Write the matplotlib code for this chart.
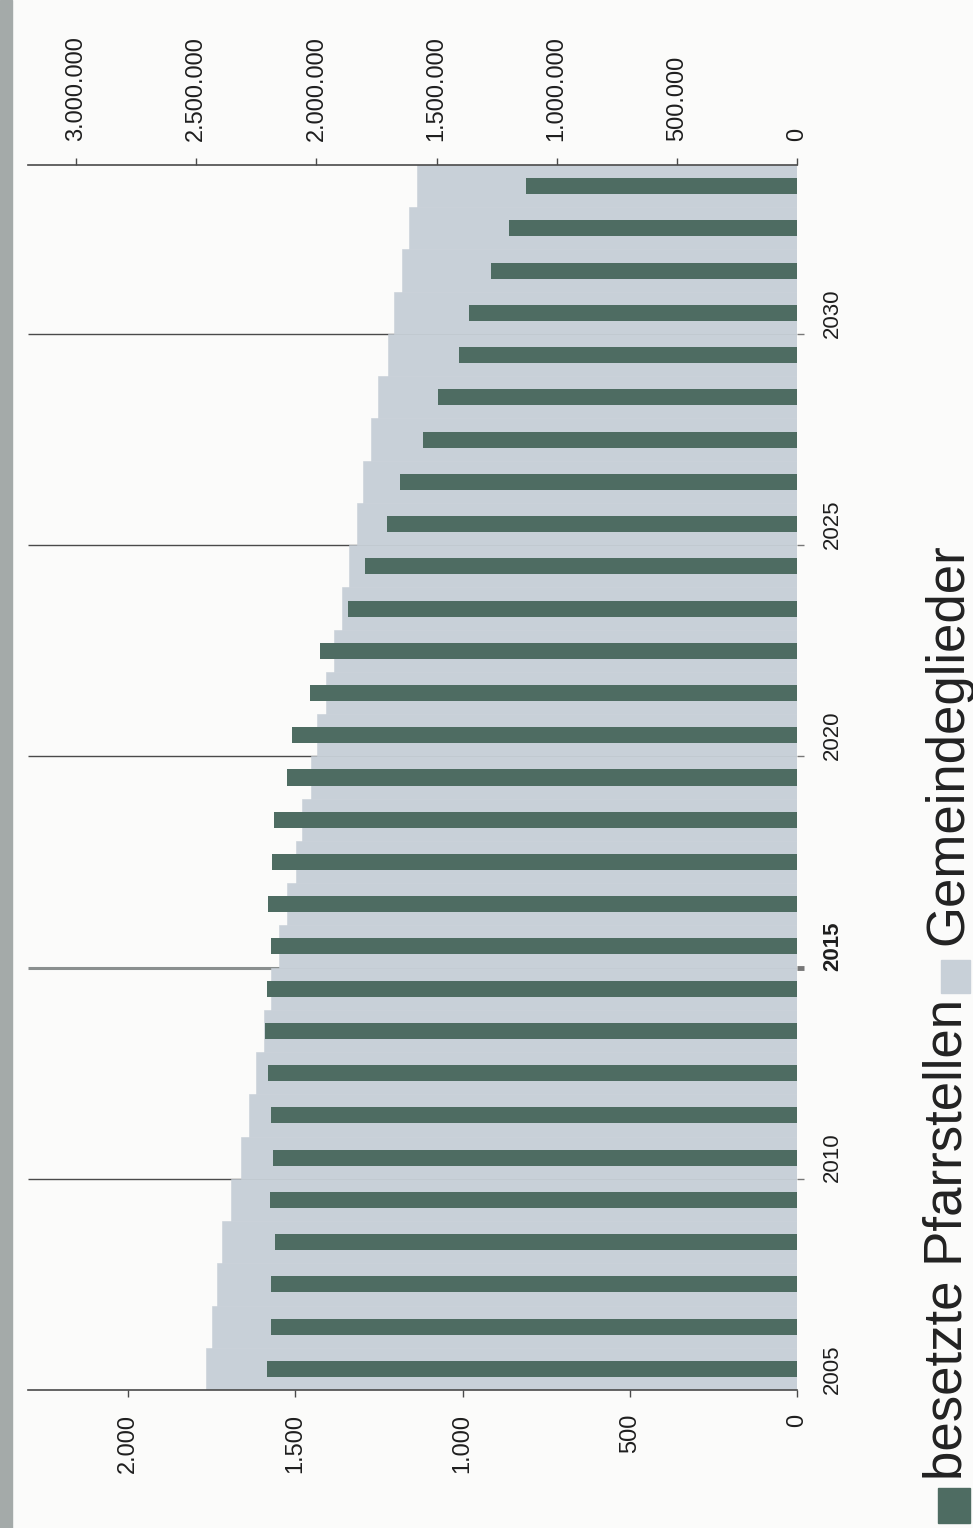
import matplotlib.pyplot as plt
from matplotlib.patches import Rectangle

# Entwicklung 2005-2033: besetzte Pfarrstellen (links) und Gemeindeglieder (rechts)
jahre = list(range(2005, 2034))
pfarrstellen = [1584, 1572, 1572, 1560, 1575, 1566, 1572, 1581, 1590, 1584,
                1572, 1581, 1569, 1563, 1524, 1509, 1458, 1428, 1344, 1293,
                1225, 1186, 1120, 1075, 1012, 982, 916, 862, 811]
gemeindeglieder = [2458000, 2433000, 2412000, 2392000, 2354000, 2312000,
                   2279000, 2250000, 2217000, 2188000, 2154000, 2121000,
                   2083000, 2058000, 2021000, 1996000, 1958000, 1925000,
                   1892000, 1863000, 1833000, 1804000, 1771000, 1742000,
                   1704000, 1675000, 1642000, 1613000, 1583000]
pfarr_ticks = [0, 500, 1000, 1500, 2000]
glieder_ticks = [0, 500000, 1000000, 1500000, 2000000, 2500000, 3000000]
jahr_labels = [2005, 2010, 2015, 2020, 2025, 2030]
grenzen = [2009.5, 2014.5, 2019.5, 2024.5, 2029.5]

DUNKEL = '#4e6c62'
HELL = '#c8d0d8'
LINIE = '#4a4a4a'


def punkte(v):
    return f'{v:,}'.replace(',', '.')


plt.rcParams['font.family'] = ['Liberation Sans', 'DejaVu Sans']

W, H = 973, 1528
fig = plt.figure(figsize=(W / 100, H / 100), dpi=100, facecolor='#fbfbfa')
# grauer Rand links
fig.patches.append(Rectangle((0, 0), 12 / W, 1, transform=fig.transFigure,
                             color='#a4aaa9', zorder=0))

ax = fig.add_axes([28 / W, 138 / H, 769 / W, 1225 / H])
ax2 = ax.twiny()
ax.set_facecolor('none')

# Gemeindeglieder als durchgehende Stufenflaeche
ax.barh(jahre, gemeindeglieder, height=1.0, color=HELL, edgecolor=HELL,
        linewidth=0.4, zorder=2)
ax.set_xlim(3200000, 0)
ax.set_ylim(2004.5, 2033.5)

ax.hlines([g for g in grenzen if g != 2014.5], 3200000, 0, colors=LINIE,
          linewidth=1.0, zorder=1)
ax.hlines([2014.5], 3200000, 0, colors='#8a8f8f', linewidth=2.2, zorder=1)

ax.xaxis.tick_top()
ax.xaxis.set_label_position('top')
ax.set_xticks(glieder_ticks, labels=[punkte(v) for v in glieder_ticks],
              rotation=90)
ax.tick_params(axis='x', length=5, width=1, color=LINIE, pad=12,
               labelsize=17, labelcolor='#1e1e1e')

ax.yaxis.tick_right()
ax.set_yticks(jahr_labels, labels=[str(j) for j in jahr_labels], rotation=90,
              va='center')
ax.tick_params(axis='y', which='major', length=0, pad=18, labelsize=16,
               labelcolor='#1e1e1e')
ax.set_yticks(grenzen, minor=True)
ax.tick_params(axis='y', which='minor', length=5, width=1, color='#777')
for lab in ax.get_yticklabels():
    if lab.get_text() == '2015':
        lab.set_fontweight('bold')
for t in ax.yaxis.get_minor_ticks():
    if t.get_loc() == 2014.5:
        t.tick2line.set_markeredgewidth(3.5)
        t.tick2line.set_color('#8a9090')

for side in ['left', 'right']:
    ax.spines[side].set_visible(False)
for side in ['top', 'bottom']:
    ax.spines[side].set_color(LINIE)
    ax.spines[side].set_linewidth(1.2)

# besetzte Pfarrstellen auf eigener Skala
ax2.barh(jahre, pfarrstellen, height=0.38, color=DUNKEL, zorder=3)
ax2.set_xlim(2300, 0)
ax2.xaxis.tick_bottom()
ax2.xaxis.set_label_position('bottom')
ax2.set_xticks(pfarr_ticks, labels=[punkte(v) for v in pfarr_ticks],
               rotation=90)
ax2.tick_params(axis='x', length=5, width=1, color=LINIE, pad=12,
                labelsize=17, labelcolor='#1e1e1e')
for side in ax2.spines:
    ax2.spines[side].set_visible(False)

# Legende, um 90 Grad gedreht am rechten Rand
fig.patches.append(Rectangle((938 / W, 5 / H), 32 / W, 35 / H,
                             transform=fig.transFigure, color=DUNKEL))
fig.text(962 / W, 48 / H, 'besetzte Pfarrstellen', rotation=90,
         rotation_mode='anchor', ha='left', va='baseline', fontsize=38,
         color='#222')
fig.patches.append(Rectangle((941 / W, 535 / H), 29 / W, 33 / H,
                             transform=fig.transFigure, color=HELL))
fig.text(962 / W, 583 / H, 'Gemeindeglieder', rotation=90,
         rotation_mode='anchor', ha='left', va='baseline', fontsize=38,
         color='#222')

fig.savefig('out.png', dpi=100, facecolor=fig.get_facecolor())
